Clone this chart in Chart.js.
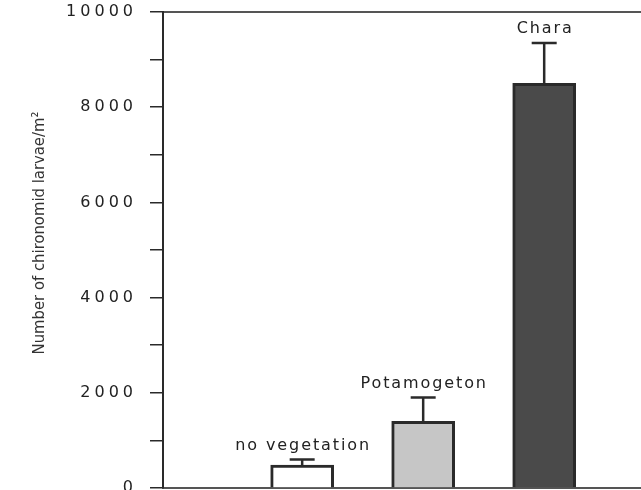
<!DOCTYPE html>
<html>
<head>
<meta charset="utf-8">
<script src="https://cdn.jsdelivr.net/npm/chart.js@4.4.1/dist/chart.umd.min.js"></script>
<style>
  html, body { margin: 0; padding: 0; background: #fff; overflow: hidden; }
  #wrap { width: 641px; height: 520px; }
</style>
</head>
<body>
<div id="wrap"><canvas id="larvaeChart" width="641" height="520"></canvas></div>
<script>
"use strict";

// values
const categories = ["no vegetation", "Potamogeton", "Chara"];
const positions = [1, 2, 3];
const means = [480, 1400, 8500];
const errorTops = [600, 1900, 9350];
const fills = ["#ffffff", "#c6c6c6", "#4a4a4a"];
const yLabelStep = 2000;
const yTitle = "Number of chironomid larvae/m\u00b2";

const ink = "#2a2a2a";

const errorBars = {
    id: "errorBars",
    beforeDraw: function (chart) {
        chart.ctx.letterSpacing = "4px";
    },
    afterDatasetsDraw: function (chart) {
        const ctx = chart.ctx;
        const y = chart.scales.y;
        const meta = chart.getDatasetMeta(0);
        ctx.save();
        meta.data.forEach(function (bar, i) {
            const top = y.getPixelForValue(errorTops[i]);
            ctx.strokeStyle = ink;
            ctx.lineWidth = 2.5;
            ctx.beginPath();
            ctx.moveTo(bar.x, bar.y);
            ctx.lineTo(bar.x, top);
            ctx.moveTo(bar.x - 12.5, top);
            ctx.lineTo(bar.x + 12.5, top);
            ctx.stroke();

            ctx.letterSpacing = "1.9px";
            ctx.fillStyle = "#222";
            ctx.font = "16px 'DejaVu Sans'";
            ctx.textAlign = "center";
            ctx.textBaseline = "middle";
            ctx.fillText(categories[i], bar.x + 1, top - 14);
        });
        ctx.restore();
    },
    afterDraw: function (chart) {
        const ctx = chart.ctx;
        ctx.save();
        ctx.letterSpacing = "0px";
        ctx.translate(40, 233);
        ctx.rotate(-Math.PI / 2);
        ctx.fillStyle = "#333";
        ctx.font = "16.5px 'Liberation Sans Narrow', 'DejaVu Sans Condensed', sans-serif";
        ctx.textAlign = "center";
        ctx.textBaseline = "middle";
        ctx.fillText(yTitle, 0, 0);
        ctx.restore();
    }
};

new Chart(document.getElementById("larvaeChart"), {
    type: "bar",
    data: {
        datasets: [{
            data: positions.map(function (p, i) { return { x: p, y: means[i] }; }),
            backgroundColor: fills,
            borderColor: ink,
            borderWidth: 3,
            borderSkipped: "bottom",
            barThickness: 63
        }]
    },
    options: {
        responsive: false,
        animation: false,
        layout: { padding: 0 },
        plugins: {
            legend: { display: false },
            tooltip: { enabled: false }
        },
        scales: {
            x: {
                type: "linear",
                offset: false,
                min: -0.15,
                max: 3.8,
                grid: { display: false },
                ticks: { display: false },
                border: { display: true, color: "#555", width: 2 },
                afterFit: function (s) { s.height = 32; }
            },
            x2: {
                type: "linear",
                position: "top",
                offset: false,
                min: 0,
                max: 1,
                grid: { display: false },
                ticks: { display: false },
                border: { display: true, color: "#555", width: 2 },
                afterFit: function (s) { s.height = 12; }
            },
            y: {
                min: 0,
                max: 10000,
                ticks: {
                    stepSize: 1000,
                    padding: 13,
                    color: "#222",
                    font: { family: "DejaVu Sans", size: 16 },
                    callback: function (v) { return v % yLabelStep === 0 ? String(v) : ""; }
                },
                grid: {
                    drawOnChartArea: false,
                    drawTicks: true,
                    tickLength: 13,
                    color: ink,
                    lineWidth: 1.5
                },
                border: { display: true, color: ink, width: 2 },
                afterFit: function (s) {
                    s.width = 163;
                    s.paddingTop = 0;
                    s.paddingBottom = 0;
                }
            }
        }
    },
    plugins: [errorBars]
});
</script>
</body>
</html>
